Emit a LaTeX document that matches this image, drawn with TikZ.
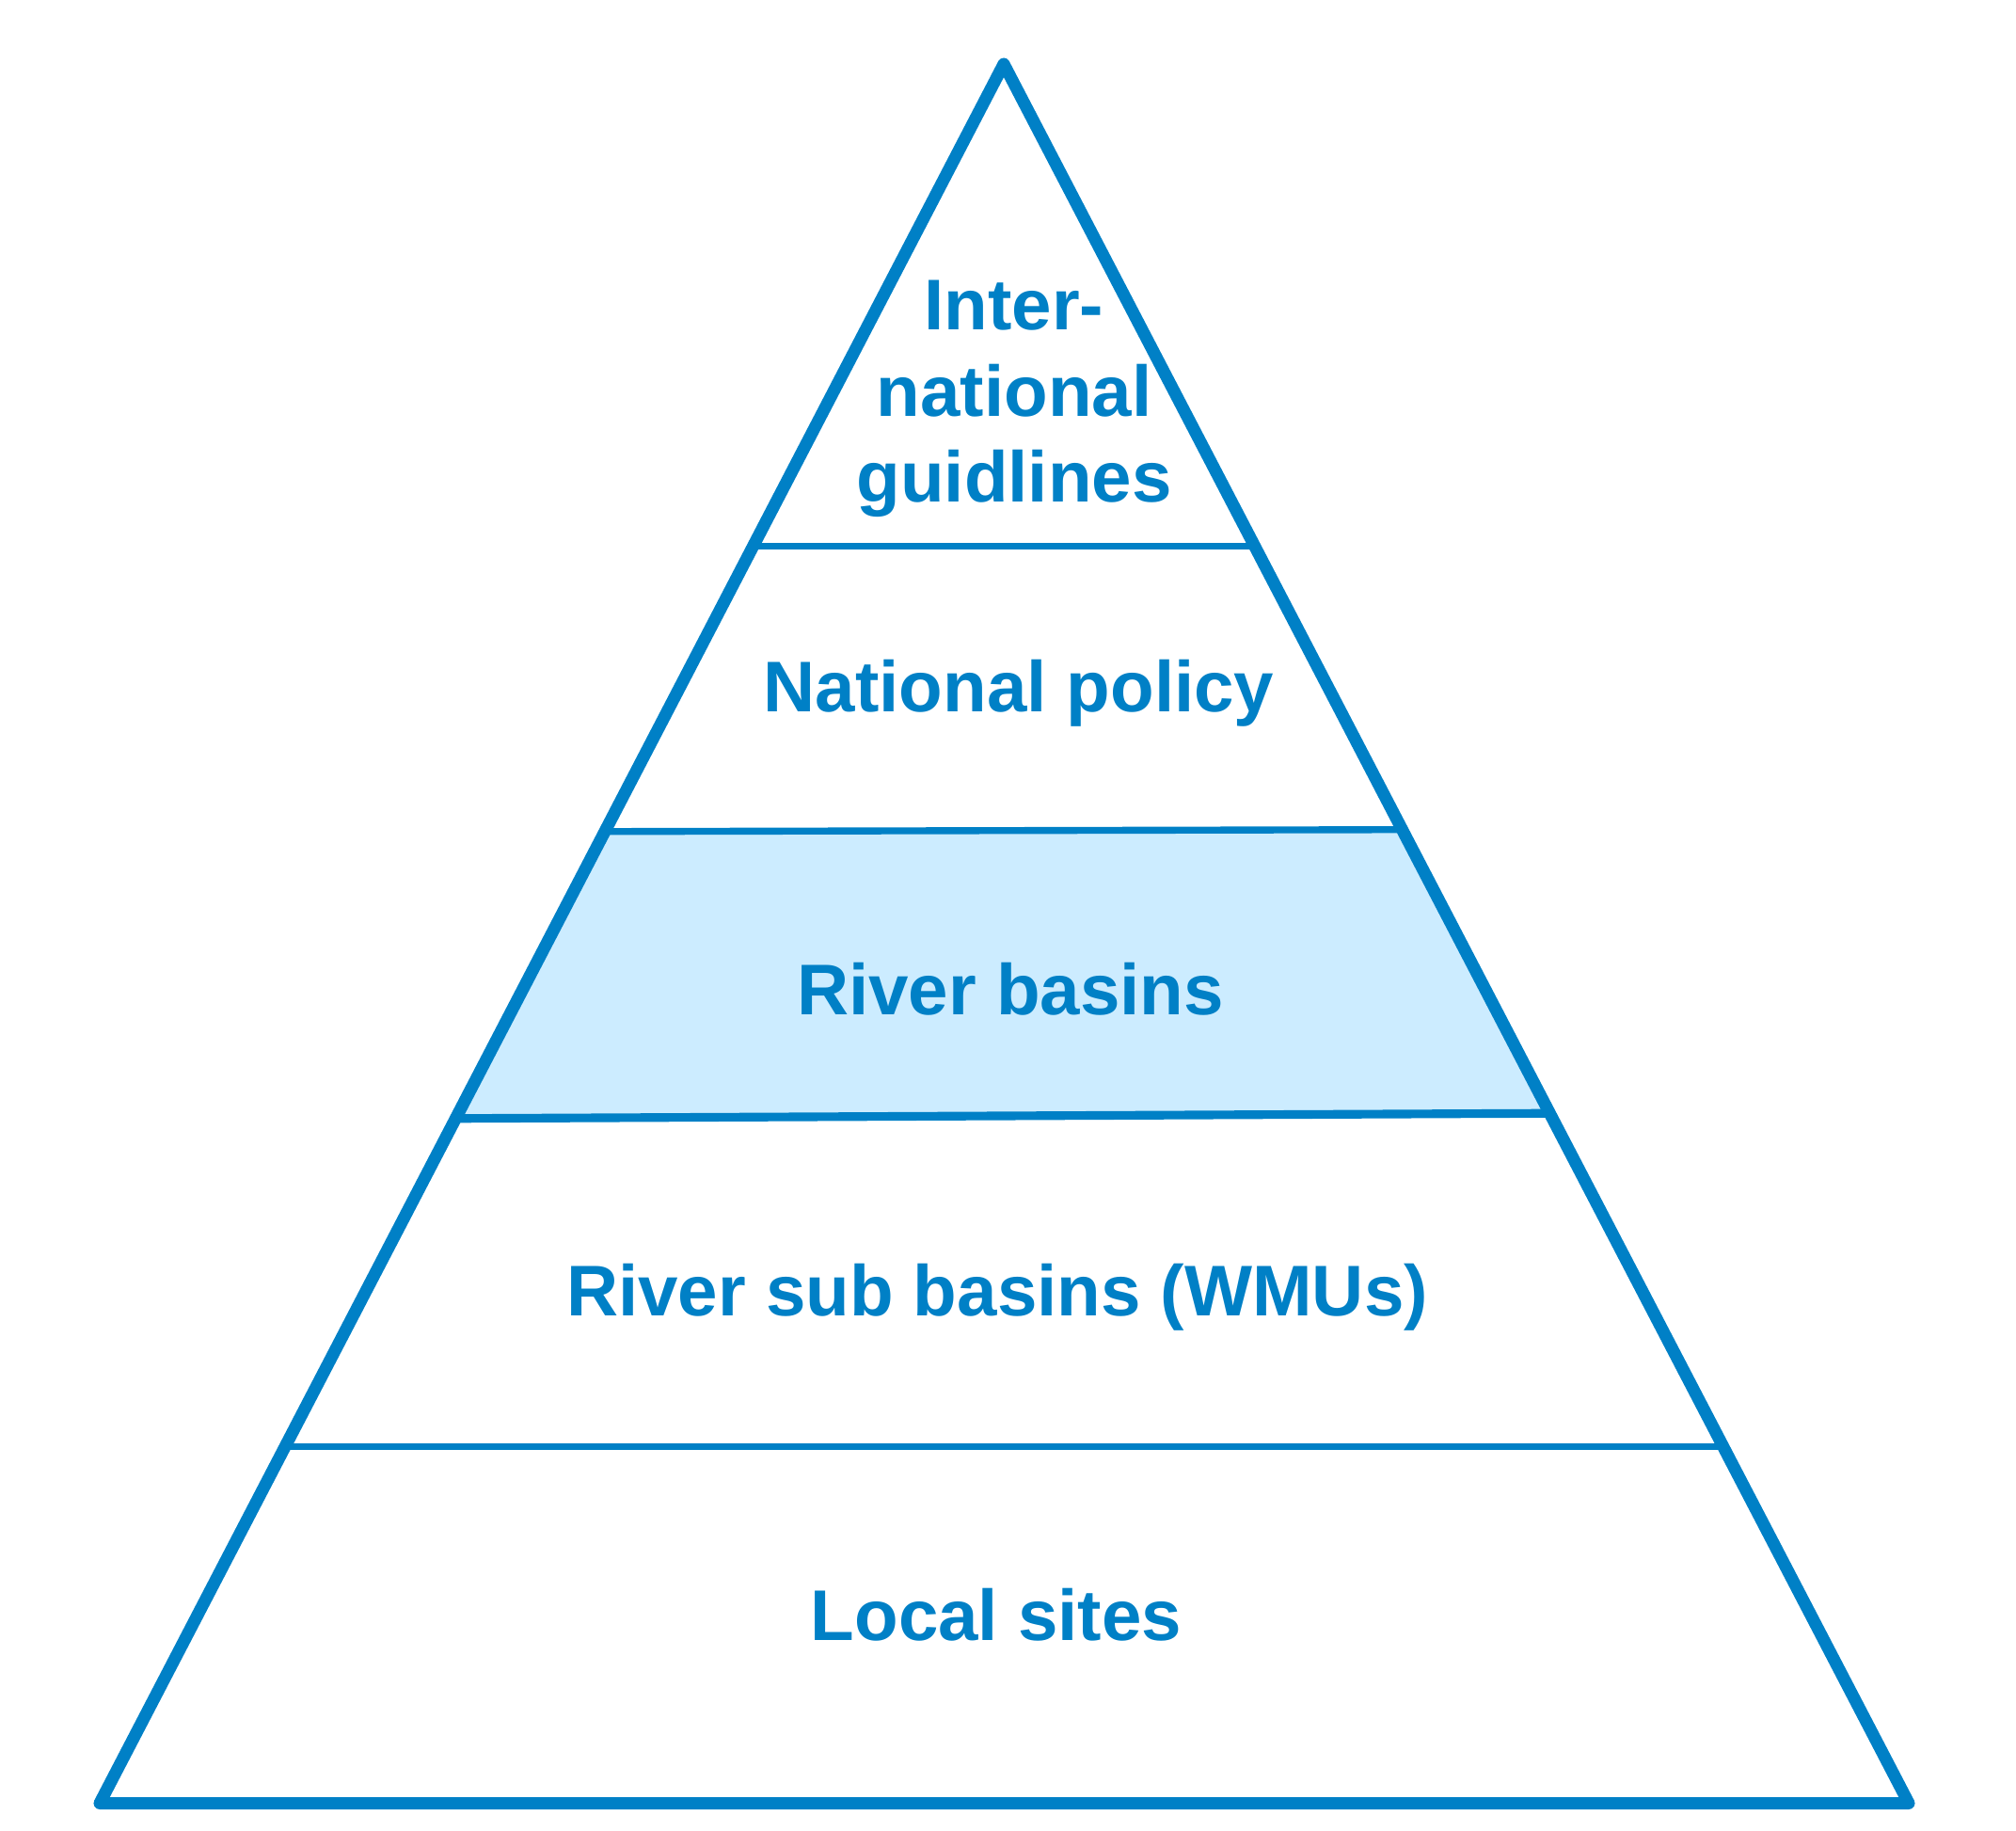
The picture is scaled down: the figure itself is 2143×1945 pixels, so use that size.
\documentclass[tikz,border=0pt]{standalone}
\usepackage{fontspec}
\setmainfont{Liberation Sans}
\usetikzlibrary{calc}
\definecolor{pyrblue}{RGB}{0,128,198}
\definecolor{pyrfill}{RGB}{204,236,255}
\tikzstyle{outline}=[draw=pyrblue,line width=3.7pt,line join=round]
\tikzstyle{divider}=[draw=pyrblue]
\tikzstyle{level}=[font=\bfseries\fontsize{21.7}{26}\selectfont,text=pyrblue,align=center,inner sep=0pt]

\begin{document}
\begin{tikzpicture}[x=0.01cm,y=-0.01cm]
    \useasboundingbox (0,0) rectangle (2143,1945);
    	% corners of the pyramid
    	\coordinate (top) at (1067,68);
    	\coordinate (bl) at (106,1916.5);
    	\coordinate (br) at (2029,1916.5);
    	% shaded band
    	\fill[pyrfill] ($(top)!0.4413!(bl)$) -- ($(top)!0.4402!(br)$)
    	    -- ($(top)!0.6033!(br)$) -- ($(top)!0.6063!(bl)$) -- cycle;
    	% dividers between the levels
    	\foreach \l/\r/\w in {0.2772/0.2772/2pt, 0.4413/0.4402/2.1pt,
    	                      0.6063/0.6033/2.6pt, 0.7950/0.7950/1.8pt}
        	\draw[divider,line width=\w] ($(top)!\l!(bl)$) -- ($(top)!\r!(br)$);
    	% outline
    	\draw[outline] (top) -- (bl) -- (br) -- cycle;
    	% level labels
    	\node[level] (intl) at (1078,424) {Inter-\\national\\guidlines};
    	\foreach \pos/\name/\txt in {{(1083,756)/natl/National policy}, {(1074,1078)/basins/River basins},
    	                             {(1060,1398)/subbasins/River sub basins (WMUs)}, {(1059,1743)/local/Local sites}}
        	\node[level,anchor=base] (\name) at \pos {\txt};
\end{tikzpicture}
\end{document}
